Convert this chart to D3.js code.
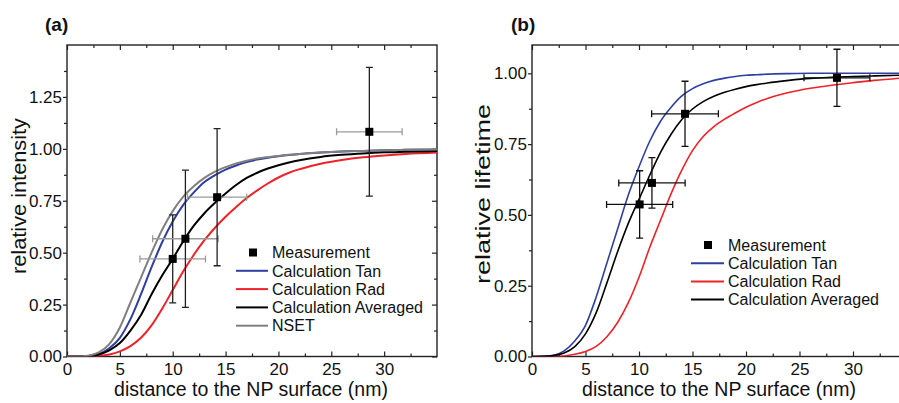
<!DOCTYPE html>
<html>
<head>
<meta charset="utf-8">
<script src="https://cdn.jsdelivr.net/npm/d3@7"></script>
<style>
  html, body { margin: 0; padding: 0; background: #fff; }
  svg { display: block; font-family: "Liberation Sans", Arial, sans-serif; }
</style>
</head>
<body>
<svg id="chart" width="899" height="403"></svg>
<script>
// ---------------- data ----------------
const distGrid = [0,1,2,3,4,5,6,7,8,9,10,11,12,13,14,15,16,17,18,19,20,21,22,24,26,28,30,32,35];

// panel (a): relative intensity
const intensityTan  = [0,0.0001,0.002,0.012,0.04,0.09,0.18,0.30,0.43,0.55,0.65,0.73,0.79,0.84,0.873,0.90,0.92,0.936,0.948,0.957,0.964,0.97,0.975,0.982,0.987,0.99,0.993,0.995,0.997];
const intensityRad  = [0,0,0.0005,0.003,0.01,0.025,0.05,0.09,0.15,0.23,0.32,0.41,0.49,0.56,0.62,0.673,0.72,0.763,0.80,0.833,0.862,0.885,0.902,0.928,0.946,0.959,0.968,0.975,0.982];
const intensityAvg  = [0,0.0001,0.002,0.01,0.03,0.065,0.125,0.20,0.30,0.39,0.47,0.555,0.63,0.69,0.74,0.785,0.826,0.86,0.885,0.905,0.921,0.934,0.945,0.961,0.971,0.978,0.983,0.986,0.99];
const intensityNSET = [0,0.0002,0.004,0.02,0.06,0.14,0.26,0.38,0.50,0.61,0.70,0.77,0.82,0.86,0.89,0.912,0.93,0.943,0.953,0.96,0.966,0.971,0.975,0.982,0.987,0.99,0.993,0.995,0.997];

const measADist   = [10.0, 11.2, 14.2, 28.6];
const measAValue  = [0.47, 0.567, 0.767, 1.082];
const measAXErr   = [3.1, 3.1, 2.8, 3.1];
const measAYErr   = [0.212, 0.33, 0.33, 0.31];

// panel (b): relative lifetime
const lifetimeTan = [0,0.0005,0.004,0.02,0.055,0.11,0.21,0.33,0.45,0.57,0.67,0.76,0.83,0.88,0.92,0.946,0.963,0.975,0.983,0.989,0.993,0.995,0.997,0.999,1,1,1,1,1];
const lifetimeRad = [0,0,0.0005,0.002,0.008,0.018,0.036,0.07,0.12,0.19,0.28,0.385,0.48,0.575,0.658,0.727,0.777,0.812,0.838,0.86,0.88,0.897,0.911,0.932,0.947,0.958,0.967,0.975,0.985];
const lifetimeAvg = [0,0.0003,0.003,0.012,0.035,0.08,0.155,0.26,0.37,0.47,0.555,0.64,0.72,0.785,0.837,0.874,0.90,0.919,0.933,0.944,0.953,0.96,0.966,0.975,0.982,0.986,0.989,0.991,0.994];

const measBDist   = [10.06, 11.21, 14.3, 28.5];
const measBValue  = [0.537, 0.613, 0.857, 0.984];
const measBXErr   = [3.09, 3.1, 3.12, 3.08];
const measBYErr   = [0.119, 0.089, 0.115, 0.101];

const xMajor = [0,5,10,15,20,25,30];
const xMinor = [2.5,7.5,12.5,17.5,22.5,27.5,32.5];
const yMajorA = [0,0.25,0.5,0.75,1.0,1.25];
const yMinorA = [0.125,0.375,0.625,0.875,1.125,1.375];
const yMajorB = [0,0.25,0.5,0.75,1.0];
const yMinorB = [0.125,0.375,0.625,0.875];

const colTan = "#2f3f9f", colRad = "#ee2229", colAvg = "#000000", colNSET = "#7f7f7f";

// ---------------- drawing ----------------
const svg = d3.select("#chart");
const fmt = d3.format(".2f");

function drawPanel(cfg) {
  const g = svg.append("g");
  const x = d3.scaleLinear().domain([0, 35]).range([cfg.left, cfg.right]);
  const y = d3.scaleLinear().domain([0, cfg.yMax]).range([cfg.bottom, cfg.top]);
  const clipId = "clip" + cfg.id;
  svg.append("clipPath").attr("id", clipId).append("rect")
    .attr("x", cfg.left).attr("y", cfg.top)
    .attr("width", cfg.right - cfg.left).attr("height", cfg.bottom - cfg.top);

  const axisStyle = sel => {
    sel.select(".domain").remove();
    sel.selectAll("line").attr("stroke", "#222").attr("stroke-width", 1.2);
    sel.selectAll("text").attr("font-size", 17).attr("fill", "#111")
       .attr("font-family", "Liberation Sans, Arial, sans-serif");
  };
  // bottom (inward)
  g.append("g").attr("transform", `translate(0,${cfg.bottom})`)
    .call(d3.axisBottom(x).tickValues(xMajor).tickSize(-5).tickPadding(6).tickFormat(d3.format("d")))
    .call(axisStyle);
  g.append("g").attr("transform", `translate(0,${cfg.bottom})`)
    .call(d3.axisBottom(x).tickValues(xMinor).tickSize(-3).tickFormat(""))
    .call(axisStyle);
  // top (inward)
  g.append("g").attr("transform", `translate(0,${cfg.top})`)
    .call(d3.axisTop(x).tickValues(xMajor).tickSize(-5).tickFormat(""))
    .call(axisStyle);
  g.append("g").attr("transform", `translate(0,${cfg.top})`)
    .call(d3.axisTop(x).tickValues(xMinor).tickSize(-3).tickFormat(""))
    .call(axisStyle);
  // left (outward)
  g.append("g").attr("transform", `translate(${cfg.left},0)`)
    .call(d3.axisLeft(y).tickValues(cfg.yMajor).tickSize(4).tickPadding(1).tickFormat(fmt))
    .call(axisStyle);
  g.append("g").attr("transform", `translate(${cfg.left},0)`)
    .call(d3.axisLeft(y).tickValues(cfg.yMinor).tickSize(3).tickFormat(""))
    .call(axisStyle);
  // right (inward)
  g.append("g").attr("transform", `translate(${cfg.right},0)`)
    .call(d3.axisRight(y).tickValues(cfg.yMajor).tickSize(-5).tickFormat(""))
    .call(axisStyle);
  g.append("g").attr("transform", `translate(${cfg.right},0)`)
    .call(d3.axisRight(y).tickValues(cfg.yMinor).tickSize(-3).tickFormat(""))
    .call(axisStyle);

  // frame
  g.append("rect").attr("x", cfg.left).attr("y", cfg.top)
    .attr("width", cfg.right - cfg.left).attr("height", cfg.bottom - cfg.top)
    .attr("fill", "none").attr("stroke", "#222").attr("stroke-width", 1.4);

  // curves
  const line = d3.line().x(d => x(d[0])).y(d => y(d[1])).curve(d3.curveMonotoneX);
  const cg = g.append("g").attr("clip-path", `url(#${clipId})`);
  cfg.series.forEach(s => {
    cg.append("path").datum(distGrid.map((d, i) => [d, s.values[i]]))
      .attr("d", line).attr("fill", "none").attr("stroke", s.color)
      .attr("stroke-width", cfg.curveWidth);
  });

  // error bars
  const eg = g.append("g").attr("clip-path", `url(#${clipId})`);
  const cap = 3.5;
  cfg.meas.dist.forEach((d, i) => {
    const v = cfg.meas.value[i], xe = cfg.meas.xerr[i], ye = cfg.meas.yerr[i];
    eg.append("line").attr("x1", x(d - xe)).attr("x2", x(d + xe)).attr("y1", y(v)).attr("y2", y(v))
      .attr("stroke", cfg.hColor).attr("stroke-width", 1.3);
    [d - xe, d + xe].forEach(e => eg.append("line").attr("x1", x(e)).attr("x2", x(e))
      .attr("y1", y(v) - cap).attr("y2", y(v) + cap).attr("stroke", cfg.hColor).attr("stroke-width", 1.3));
    eg.append("line").attr("x1", x(d)).attr("x2", x(d)).attr("y1", y(v - ye)).attr("y2", y(v + ye))
      .attr("stroke", cfg.vColor).attr("stroke-width", 1.3);
    [v - ye, v + ye].forEach(e => eg.append("line").attr("x1", x(d) - cap).attr("x2", x(d) + cap)
      .attr("y1", y(e)).attr("y2", y(e)).attr("stroke", cfg.vColor).attr("stroke-width", 1.3));
    eg.append("rect").attr("x", x(d) - 4).attr("y", y(v) - 4).attr("width", 8).attr("height", 8).attr("fill", "#000");
  });

  // axis titles
  g.append("text").attr("x", cfg.xTitleX).attr("y", 396)
    .attr("text-anchor", "middle").attr("font-size", 19.5).attr("fill", "#111")
    .text("distance to the NP surface (nm)");
  g.append("text").attr("transform", `translate(${cfg.yTitleX},${cfg.yTitleY}) rotate(-90)`)
    .attr("text-anchor", "middle").attr("font-size", 19.5).attr("fill", "#111")
    .attr("textLength", cfg.yTitleLen).attr("lengthAdjust", "spacingAndGlyphs")
    .text(cfg.yTitle);
  // panel label
  g.append("text").attr("x", cfg.labelX).attr("y", 31).attr("font-size", 19)
    .attr("font-weight", "bold").attr("fill", "#111").text(cfg.label);

  // legend
  const lg = g.append("g");
  const L = cfg.legend;
  lg.append("rect").attr("x", L.markX - 4).attr("y", L.y0 - 4).attr("width", 8).attr("height", 8).attr("fill", "#000");
  lg.append("text").attr("x", L.textX).attr("y", L.y0).attr("dy", "0.36em")
    .attr("font-size", 16).attr("fill", "#111").text("Measurement");
  cfg.series.forEach((s, i) => {
    const yy = L.y0 + L.dy * (i + 1);
    lg.append("line").attr("x1", L.lineX1).attr("x2", L.lineX2).attr("y1", yy).attr("y2", yy)
      .attr("stroke", s.color).attr("stroke-width", 2);
    lg.append("text").attr("x", L.textX).attr("y", yy).attr("dy", "0.36em")
      .attr("font-size", 16).attr("fill", "#111").text(s.name);
  });
}

drawPanel({
  id: "a", left: 67, right: 437, top: 45, bottom: 356.5, yMax: 1.5,
  yMajor: yMajorA, yMinor: yMinorA, curveWidth: 2,
  series: [
    {name: "Calculation Tan", values: intensityTan, color: colTan},
    {name: "Calculation Rad", values: intensityRad, color: colRad},
    {name: "Calculation Averaged", values: intensityAvg, color: colAvg},
    {name: "NSET", values: intensityNSET, color: colNSET}
  ],
  meas: {dist: measADist, value: measAValue, xerr: measAXErr, yerr: measAYErr},
  hColor: "#9a9a9a", vColor: "#222",
  xTitleX: 251, yTitleX: 26, yTitleY: 196, yTitleLen: 156, yTitle: "relative intensity",
  label: "(a)", labelX: 45,
  legend: {markX: 253, y0: 252.5, dy: 18.3, textX: 272, lineX1: 236, lineX2: 268}
});

drawPanel({
  id: "b", left: 532, right: 906.5, top: 45, bottom: 356.5, yMax: 1.1,
  yMajor: yMajorB, yMinor: yMinorB, curveWidth: 1.6,
  series: [
    {name: "Calculation Tan", values: lifetimeTan, color: colTan},
    {name: "Calculation Rad", values: lifetimeRad, color: colRad},
    {name: "Calculation Averaged", values: lifetimeAvg, color: colAvg}
  ],
  meas: {dist: measBDist, value: measBValue, xerr: measBXErr, yerr: measBYErr},
  hColor: "#111", vColor: "#111",
  xTitleX: 719, yTitleX: 490, yTitleY: 194, yTitleLen: 180, yTitle: "relative lifetime",
  label: "(b)", labelX: 511,
  legend: {markX: 708, y0: 245, dy: 18.2, textX: 728, lineX1: 691, lineX2: 724}
});
</script>
</body>
</html>
